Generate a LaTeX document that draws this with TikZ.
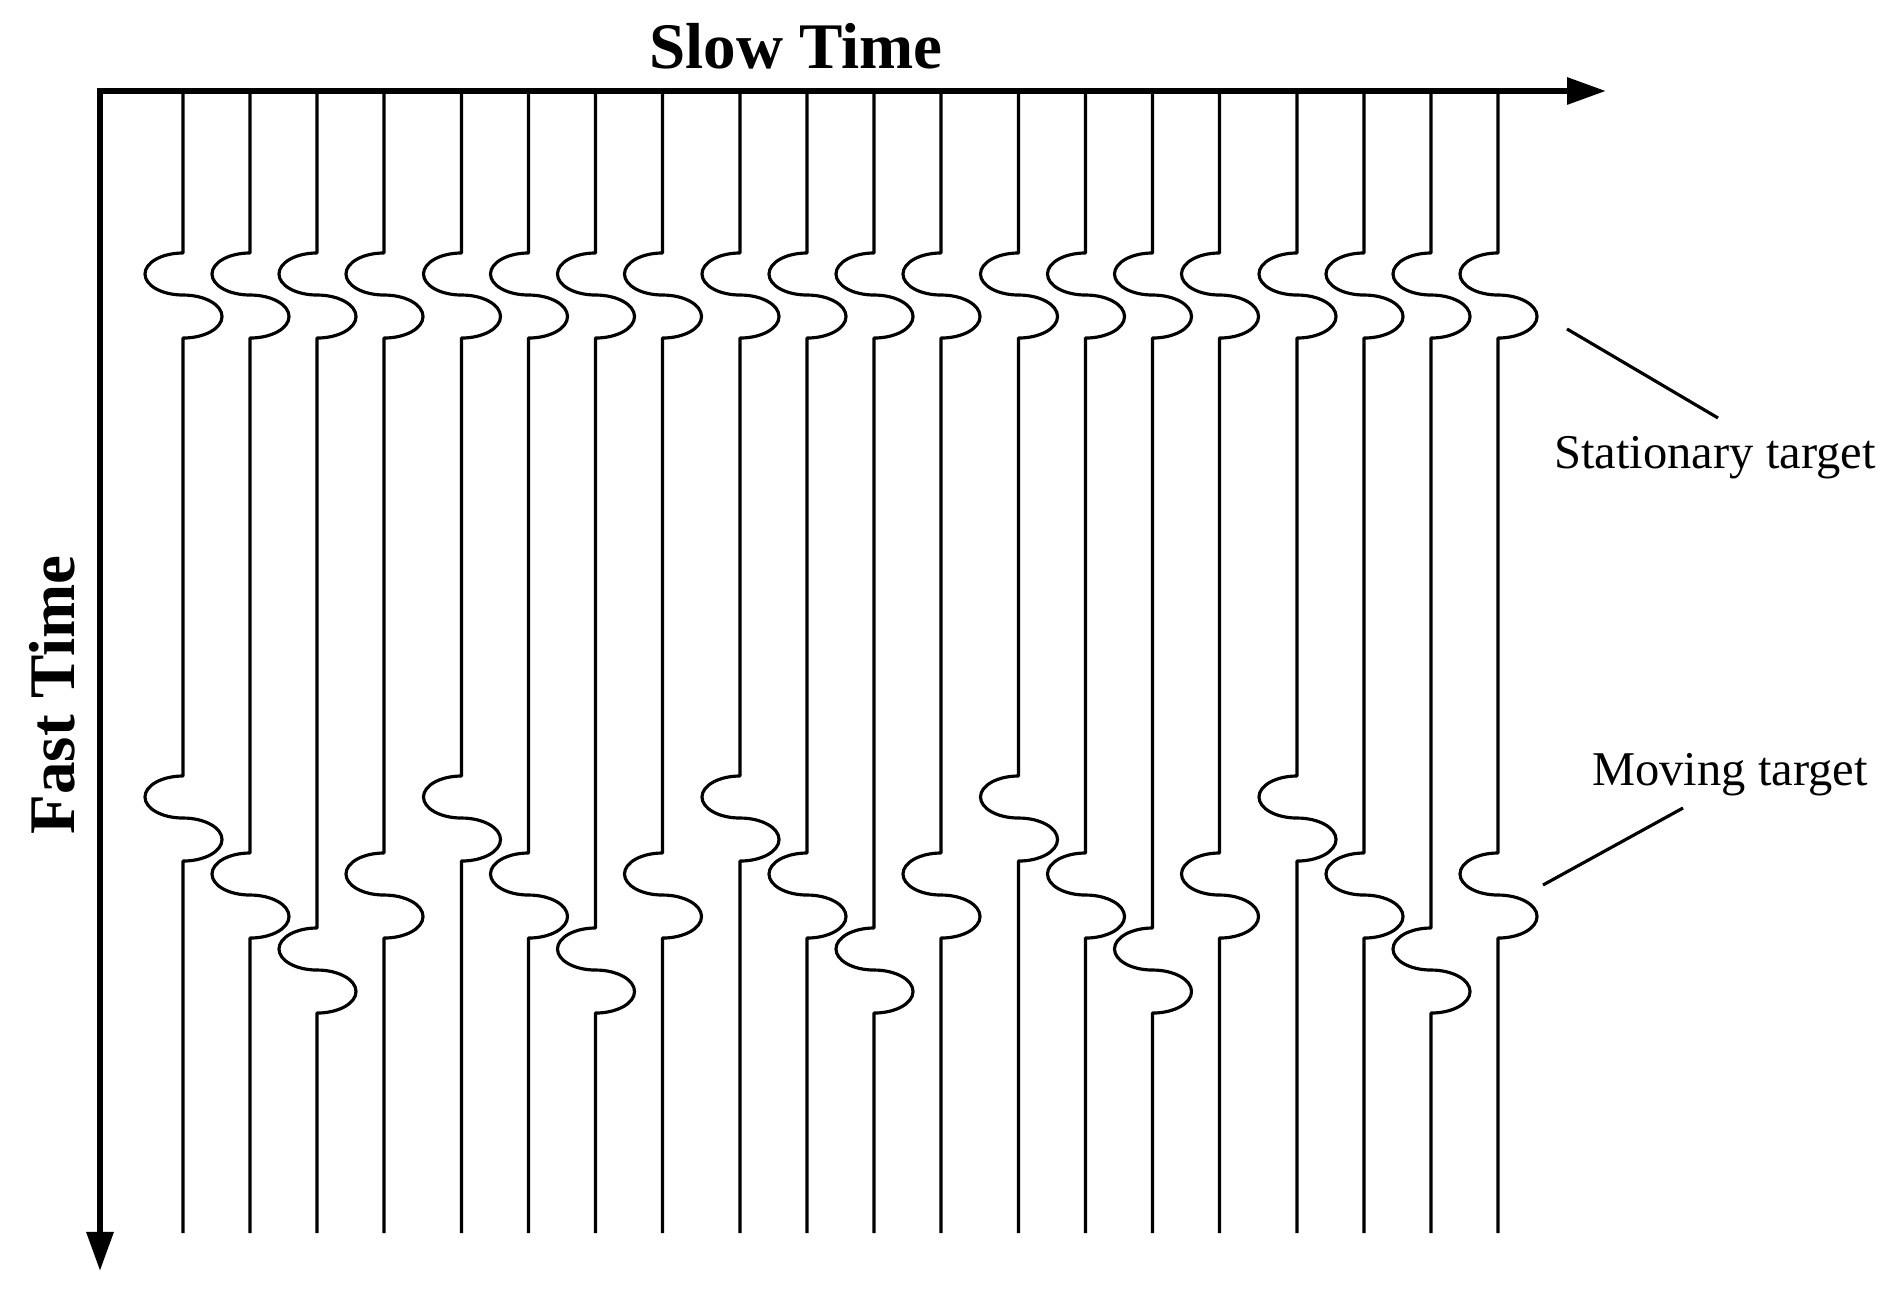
\documentclass[tikz,border=0pt]{standalone}
\usepackage{fontspec}
\setmainfont{Liberation Serif}
\usetikzlibrary{arrows.meta}
\begin{document}
\begin{tikzpicture}[x=0.01cm,y=0.01cm,
  trace/.style={line width=0.9pt, line join=round},
  axis/.style={line width=1.75pt, line join=miter, {Triangle[length=0.39cm,width=0.26cm]}-{Triangle[length=0.39cm,width=0.26cm]}},
  lbl/.style={font=\fontsize{13.8pt}{16pt}\selectfont, inner sep=0pt},
  ttl/.style={font=\fontsize{18.5pt}{21pt}\selectfont\bfseries, inner sep=0pt},
  leader/.style={line width=0.9pt}]
\useasboundingbox (0,0) rectangle (1901,-1292);
% axes
\coordinate (O) at (100,-91);
\coordinate (xend) at (1606,-91);
\coordinate (yend) at (100,-1271);
\draw[axis] (yend) -- (O) -- (xend);
% traces
\foreach \g in {0,...,4}{
  \foreach \k/\m in {0/776,1/853,2/928,3/853}{
    \pgfmathsetmacro\L{183+278.5*\g+67*\k}
    \draw[trace] (\L,-94) -- (\L,-253)
      arc[start angle=90,end angle=270,x radius=0.38cm,y radius=0.21cm]
      arc[start angle=90,end angle=-90,x radius=0.39cm,y radius=0.215cm]
      -- (\L,-\m)
      arc[start angle=90,end angle=270,x radius=0.38cm,y radius=0.21cm]
      arc[start angle=90,end angle=-90,x radius=0.39cm,y radius=0.215cm]
      -- (\L,-1233);
  }
}
% titles
\node[ttl, anchor=base] (slow) at (796,-69) {Slow Time};
\node[ttl, anchor=base, rotate=90] (fast) at (74,-695) {Fast Time};
% labels
\node[lbl, anchor=base] (stat) at (1715,-469) {Stationary target};
\node[lbl, anchor=base] (mov) at (1730,-785) {Moving target};
\coordinate (s1) at (1567,-329);
\coordinate (s2) at (1718,-418);
\coordinate (m1) at (1543,-885);
\coordinate (m2) at (1683,-808);
\draw[leader] (s1) -- (s2);
\draw[leader] (m1) -- (m2);
\end{tikzpicture}
\end{document}
